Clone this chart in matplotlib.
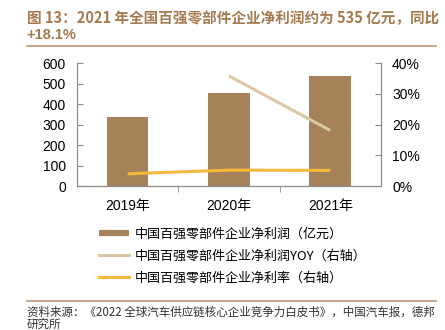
import matplotlib
matplotlib.use("Agg")
import matplotlib.pyplot as plt
import numpy as np
from matplotlib.lines import Line2D
from matplotlib.ticker import FuncFormatter, FixedLocator

plt.rcParams["font.family"] = ["Liberation Sans", "Noto Sans CJK SC", "DejaVu Sans"]

# data
years = ["2019年", "2020年", "2021年"]
net_profit = [335, 455, 535]          # 亿元
yoy_years = [1, 2]
yoy = [0.358, 0.181]                  # 右轴
margin = [0.040, 0.052, 0.051]        # 右轴

bar_color = "#A6825A"
yoy_color = "#D9C8A3"
margin_color = "#F4B93A"
axis_color = "#8C8C8C"
title_color = "#A57A4F"

fig = plt.figure(figsize=(4.45, 3.3), dpi=100)
ax = fig.add_axes([0.173, 0.436, 0.683, 0.373])
ax2 = ax.twinx()

x = np.arange(len(years))
ax.bar(x, net_profit, width=0.41, color=bar_color, zorder=2)
ax2.plot(yoy_years, yoy, color=yoy_color, lw=2.2, solid_capstyle="butt")
ax2.plot(x, margin, color=margin_color, lw=2.2, solid_capstyle="butt")

ax.set_xlim(-0.5, 2.5)
ax.set_ylim(0, 600)
ax.set_yticks(range(0, 601, 100))
ax2.set_ylim(0, 0.4)
ax2.set_yticks([0, 0.1, 0.2, 0.3, 0.4])
ax2.yaxis.set_major_formatter(FuncFormatter(lambda v, p: f"{v*100:.0f}%"))

ax.set_xticks(x)
ax.set_xticklabels(years)
ax.xaxis.set_minor_locator(FixedLocator([0.5, 1.5]))
ax.tick_params(axis="x", which="major", length=0, pad=9, labelsize=10)
ax.tick_params(axis="x", which="minor", length=4, direction="out", color=axis_color)
ax.tick_params(axis="y", length=4, direction="in", color=axis_color, labelsize=10, pad=8)
ax2.tick_params(axis="y", length=4, direction="in", color=axis_color, labelsize=10, pad=8)

for a in (ax, ax2):
    a.spines["top"].set_visible(False)
    for s in ("left", "right", "bottom"):
        a.spines[s].set_color(axis_color)
        a.spines[s].set_linewidth(0.8)

# legend
handles = [
    Line2D([], [], color=bar_color, lw=4.5, solid_capstyle="butt"),
    Line2D([], [], color=yoy_color, lw=2.2),
    Line2D([], [], color=margin_color, lw=2.2),
]
labels = ["中国百强零部件企业净利润（亿元）",
          "中国百强零部件企业净利润YOY（右轴）",
          "中国百强零部件企业净利率（右轴）"]
fig.legend(handles, labels, loc="upper left", bbox_to_anchor=(0.222, 0.31),
           frameon=False, prop={"family": ["Noto Sans CJK SC"], "size": 9.4},
           handlelength=2.3, handletextpad=0.45, labelspacing=0.68,
           borderpad=0, borderaxespad=0)

# title
fig.text(0.06, 0.945, "图 13：2021 年全国百强零部件企业净利润约为 535 亿元，同比",
         fontsize=10.5, fontweight="bold", color=title_color, va="center",
         family=["Noto Sans CJK SC"])
fig.text(0.06, 0.893, "+18.1%", fontsize=10.5, fontweight="bold",
         color=title_color, va="center", family=["Liberation Sans"])
fig.add_artist(Line2D([0.06, 0.98], [0.862, 0.862], color="#B8987A", lw=1.2))

# source
fig.add_artist(Line2D([0.06, 0.98], [0.087, 0.087], color="#B8987A", lw=1.2))
fig.text(0.06, 0.055, "资料来源：《2022 全球汽车供应链核心企业竞争力白皮书》，中国汽车报，德邦",
         fontsize=8.3, color="#333333", va="center", family=["Noto Sans CJK SC"])
fig.text(0.06, 0.018, "研究所", fontsize=8.3, color="#333333", va="center",
         family=["Noto Sans CJK SC"])

fig.savefig("out.png", dpi=100)
